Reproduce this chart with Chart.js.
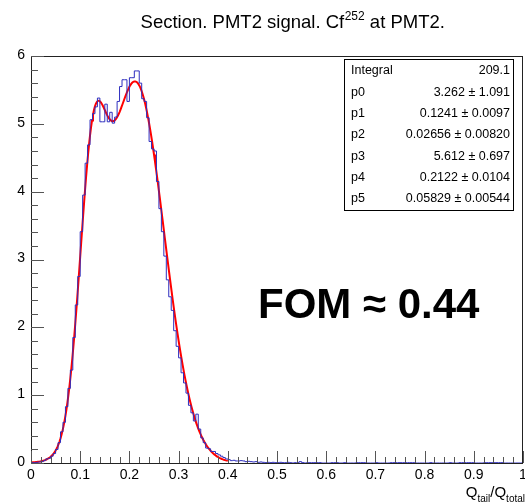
<!DOCTYPE html>
<html>
<head>
<meta charset="utf-8">
<script src="https://cdn.jsdelivr.net/npm/chart.js@4.4.1/dist/chart.umd.min.js"></script>
<style>
  html, body { margin: 0; padding: 0; background: #ffffff; }
  #wrap { width: 525px; height: 503px; position: relative; }
</style>
</head>
<body>
<div id="wrap"><canvas id="c" width="525" height="503"></canvas></div>
<script>
// Histogram: 200 bins over [0, 1], bin width 0.005; contents per bin
const binWidth = 0.005;
const binContents = [
  0.005, 0.005, 0.010, 0.015, 0.020, 0.035, 0.060, 0.070, 0.100, 0.140,
  0.200, 0.300, 0.460, 0.600, 0.830, 1.100, 1.370, 1.850, 2.330, 2.750,
  3.410, 3.950, 4.420, 4.690, 5.060, 5.150, 5.250, 5.380, 5.030, 5.030,
  5.290, 5.030, 5.170, 5.010, 5.100, 5.330, 5.550, 5.650, 5.650, 5.330,
  5.680, 5.680, 5.780, 5.780, 5.600, 5.370, 5.330, 5.090, 4.740, 4.630,
  4.600, 4.150, 3.750, 3.410, 3.050, 2.700, 2.450, 2.250, 1.950, 1.720,
  1.550, 1.330, 1.180, 1.030, 0.850, 0.740, 0.620, 0.720, 0.500, 0.370,
  0.300, 0.220, 0.210, 0.170, 0.170, 0.140, 0.120, 0.100, 0.080, 0.060,
  0.050, 0.035, 0.040, 0.030, 0.030, 0.035, 0.030, 0.020, 0.025, 0.020,
  0.015, 0.020, 0.010, 0.015, 0.010, 0.005, 0.010, 0.005, 0.010, 0.005,
  0.005, 0.010, 0.005, 0.005, 0.010, 0.005, 0.000, 0.005, 0.005, 0.020,
  0.005, 0.000, 0.005, 0.005, 0.005, 0.005, 0.005, 0.005, 0.000, 0.000,
  0.000, 0.000, 0.005, 0.005, 0.005, 0.000, 0.000, 0.005, 0.000, 0.000,
  0.000, 0.000, 0.005, 0.005, 0.005, 0.005, 0.000, 0.000, 0.000, 0.000,
  0.005, 0.000, 0.000, 0.000, 0.000, 0.000, 0.005, 0.005, 0.005, 0.005,
  0.005, 0.005, 0.005, 0.005, 0.005, 0.005, 0.000, 0.000, 0.000, 0.000,
  0.000, 0.000, 0.005, 0.000, 0.000, 0.000, 0.000, 0.000, 0.000, 0.000,
  0.005, 0.000, 0.000, 0.000, 0.005, 0.005, 0.005, 0.005, 0.005, 0.005,
  0.000, 0.000, 0.000, 0.000, 0.005, 0.005, 0.005, 0.005, 0.005, 0.005,
  0.005, 0.005, 0.000, 0.000, 0.000, 0.000, 0.000, 0.000, 0.000, 0.000
];

// Double-Gaussian fit result, fitted on [0, 0.4]
const fitNames = ["p0", "p1", "p2", "p3", "p4", "p5"];
const fitValues = [3.262, 0.1241, 0.02656, 5.612, 0.2122, 0.05829];
const fitErrors = [1.091, 0.0097, 0.00820, 0.697, 0.0104, 0.00544];
const fitRange = [0, 0.4];
const integralValue = 209.1;

// Axis tick labels
const xTickLabels = ["0", "0.1", "0.2", "0.3", "0.4", "0.5", "0.6", "0.7", "0.8", "0.9", "1"];
const yTickLabels = ["0", "1", "2", "3", "4", "5", "6"];

const titleMain = "Section. PMT2 signal. Cf";
const titleSup = "252";
const titleTail = " at PMT2.";
const fomText = "FOM \u2248 0.44";

// Step outline points: one point at each bin's low edge, plus the final high edge
const histPoints = [{ x: 0, y: 0 }];
binContents.forEach((v, i) => histPoints.push({ x: i * binWidth, y: v }));
histPoints.push({ x: binContents.length * binWidth, y: binContents[binContents.length - 1] });

// Evaluate p0*gaus(p1,p2) + p3*gaus(p4,p5) with the fitted parameters
function fitFunc(x) {
  const [a1, m1, s1, a2, m2, s2] = fitValues;
  const z1 = (x - m1) / s1, z2 = (x - m2) / s2;
  return a1 * Math.exp(-0.5 * z1 * z1) + a2 * Math.exp(-0.5 * z2 * z2);
}
const fitPoints = [];
for (let k = 0; k <= 200; k++) {
  const x = fitRange[0] + (fitRange[1] - fitRange[0]) * k / 200;
  fitPoints.push({ x: x, y: fitFunc(x) });
}

const FONT = '"Liberation Sans", Arial, Helvetica, sans-serif';

const rootFrame = {
  id: 'rootFrame',
  afterDatasetsDraw(chart) {
    const { ctx, chartArea: a, scales: { x, y } } = chart;
    ctx.save();
    // frame
    ctx.strokeStyle = '#222';
    ctx.lineWidth = 1;
    ctx.strokeRect(a.left + 0.5, a.top + 0.5, a.right - a.left - 1, a.bottom - a.top);

    // x ticks
    ctx.strokeStyle = '#555';
    ctx.beginPath();
    for (let k = 0; k <= 50; k++) {
      const v = k * 0.02;
      const px = Math.round(x.getPixelForValue(v)) + 0.5;
      const len = (k % 5 === 0) ? 12 : 6;
      ctx.moveTo(px, a.bottom);
      ctx.lineTo(px, a.bottom - len);
    }
    // y ticks
    for (let k = 0; k <= 30; k++) {
      const v = k * 0.2;
      const py = Math.round(y.getPixelForValue(v)) + 0.5;
      const len = (k % 5 === 0) ? 13 : 7;
      ctx.moveTo(a.left, py);
      ctx.lineTo(a.left + len, py);
    }
    ctx.stroke();

    // tick labels
    ctx.fillStyle = '#000';
    ctx.font = '14px ' + FONT;
    ctx.textAlign = 'center';
    ctx.textBaseline = 'middle';
    xTickLabels.forEach((t, i) => {
      ctx.fillText(t, x.getPixelForValue(i * 0.1), a.bottom + 12);
    });
    ctx.textAlign = 'right';
    yTickLabels.forEach((t, i) => {
      ctx.fillText(t, a.left - 6, y.getPixelForValue(i) - 1);
    });

    // x axis title: Q_tail / Q_total, right aligned
    ctx.textBaseline = 'alphabetic';
    ctx.textAlign = 'left';
    const big = '15px ' + FONT, small = '10px ' + FONT;
    const parts = [[ 'Q', big, 0 ], [ 'tail', small, 5 ], [ '/', big, 0 ], [ 'Q', big, 0 ], [ 'total', small, 5 ]];
    let w = 0;
    parts.forEach(p => { ctx.font = p[1]; w += ctx.measureText(p[0]).width; });
    let cx = 525 - w;
    parts.forEach(p => {
      ctx.font = p[1];
      ctx.fillText(p[0], cx, 497 + p[2]);
      cx += ctx.measureText(p[0]).width;
    });

    // title with superscript
    const tBig = '18.5px ' + FONT, tSmall = '12px ' + FONT;
    ctx.font = tBig; const w1 = ctx.measureText(titleMain).width; const w3 = ctx.measureText(titleTail).width;
    ctx.font = tSmall; const w2 = ctx.measureText(titleSup).width;
    let tx = 292.5 - (w1 + w2 + w3) / 2;
    ctx.font = tBig; ctx.fillText(titleMain, tx, 28); tx += w1;
    ctx.font = tSmall; ctx.fillText(titleSup, tx + 0.5, 20); tx += w2 + 0.5;
    ctx.font = tBig; ctx.fillText(titleTail, tx, 28);
    ctx.restore();
  },
  afterDraw(chart) {
    const { ctx } = chart;
    ctx.save();
    // statistics box
    const bx = 344, by = 59, bw = 169, bh = 151;
    ctx.fillStyle = '#fff';
    ctx.fillRect(bx, by, bw, bh);
    ctx.strokeStyle = '#000';
    ctx.lineWidth = 1;
    ctx.strokeRect(bx + 0.5, by + 0.5, bw, bh);
    ctx.fillStyle = '#000';
    ctx.font = '12.5px ' + FONT;
    ctx.textBaseline = 'middle';
    const rows = [["Integral", integralValue.toFixed(1)]];
    fitNames.forEach((n, i) => {
      const dec = String(fitValues[i]).split('.')[1].length;
      const decE = (String(fitErrors[i]).split('.')[1] || '').length;
      rows.push([n, fitValues[i].toFixed(Math.max(dec, 3)) + " \u00b1 " + fitErrors[i].toFixed(Math.max(decE, dec))]);
    });
    rows.forEach((r, i) => {
      const ry = 71 + i * 21.3;
      ctx.textAlign = 'left'; ctx.fillText(r[0], bx + 7, ry);
      ctx.textAlign = 'right'; ctx.fillText(r[1], bx + bw - 3, ry);
    });

    // figure-of-merit annotation
    ctx.font = 'bold 42px ' + FONT;
    ctx.textAlign = 'left';
    ctx.textBaseline = 'alphabetic';
    ctx.fillText(fomText, 258, 318);
    ctx.restore();
  }
};

new Chart(document.getElementById('c'), {
  type: 'line',
  data: {
    datasets: [
      {
        label: 'histogram',
        data: histPoints,
        stepped: 'before',
        borderColor: 'rgb(45,45,190)',
        borderWidth: 1,
        pointRadius: 0,
        fill: false
      },
      {
        label: 'fit',
        data: fitPoints,
        borderColor: '#ff0000',
        borderWidth: 2,
        pointRadius: 0,
        tension: 0,
        fill: false
      }
    ]
  },
  options: {
    responsive: false,
    animation: false,
    layout: { padding: { left: 31, top: 56, right: 2, bottom: 40 } },
    plugins: { legend: { display: false }, tooltip: { enabled: false }, title: { display: false } },
    scales: {
      x: { type: 'linear', min: 0, max: 1, display: false },
      y: { type: 'linear', min: 0, max: 6, display: false }
    }
  },
  plugins: [rootFrame]
});
</script>
</body>
</html>
